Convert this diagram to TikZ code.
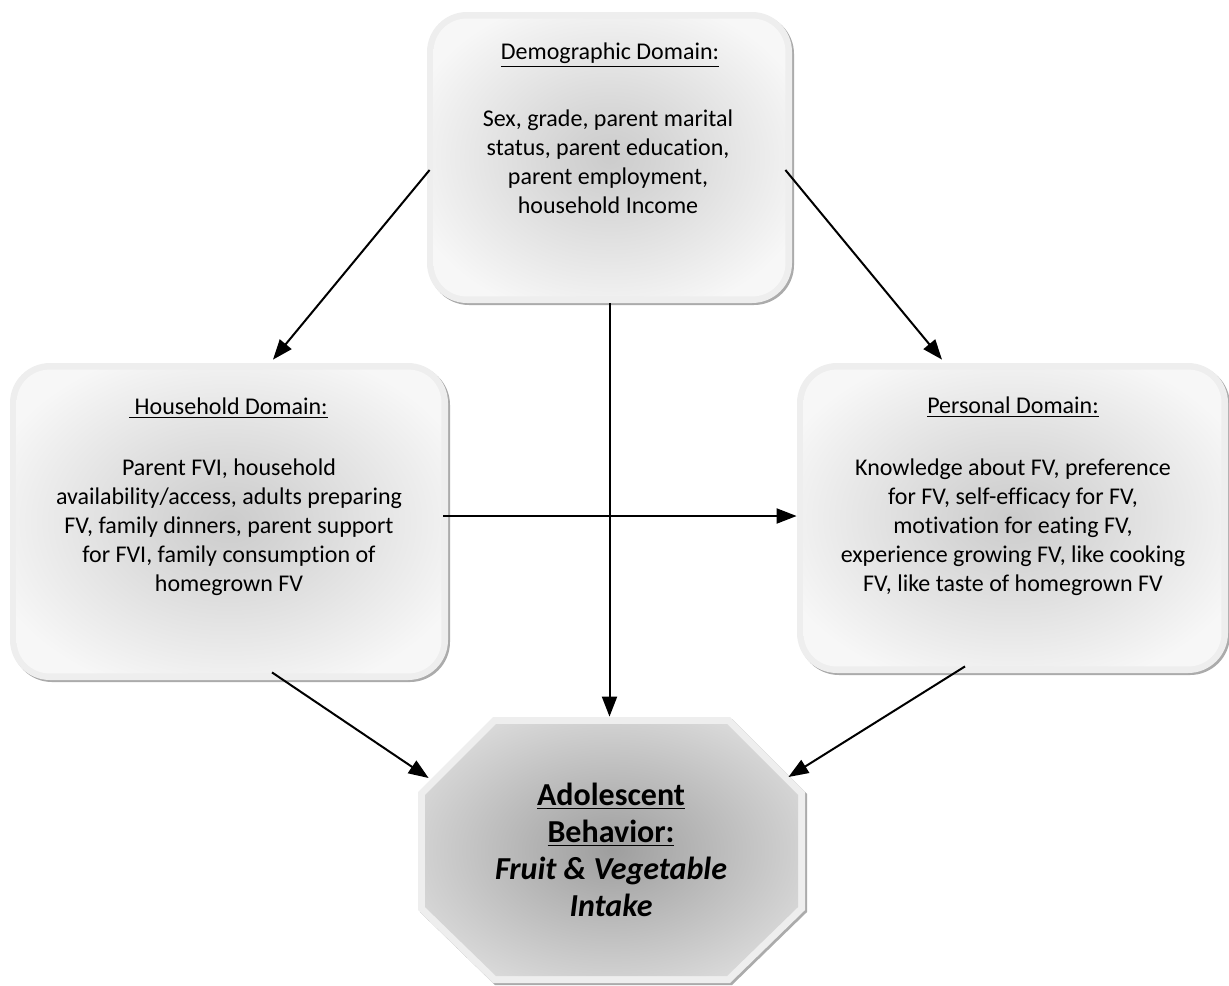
\documentclass[tikz,border=0pt]{standalone}
\usepackage{fontspec}
\setmainfont{Carlito}[Ligatures={NoCommon}]
\usetikzlibrary{calc,shadows,arrows.meta}
\pgfdeclareradialshading{boxshade}{\pgfpoint{0bp}{0bp}}{rgb(0bp)=(0.80,0.80,0.80); rgb(6bp)=(0.83,0.83,0.83); rgb(30bp)=(0.97,0.97,0.97); rgb(50bp)=(0.97,0.97,0.97)}
\pgfdeclareradialshading{octshade}{\pgfpoint{0bp}{0bp}}{rgb(0bp)=(0.62,0.62,0.62); rgb(38bp)=(0.92,0.92,0.92); rgb(50bp)=(0.92,0.92,0.92)}
\definecolor{ringc}{HTML}{EEEEEE}
\definecolor{shadowc}{HTML}{ABABAB}
\begin{document}
\begin{tikzpicture}[x=0.5pt,y=-0.5pt,
  boxouter/.style={rectangle, rounded corners=20pt, fill=ringc, inner sep=0pt,
    drop shadow={shadow xshift=1pt, shadow yshift=-1pt, fill=shadowc, opacity=1}},
  bodytext/.style={align=center, font=\fontsize{12}{14.5}\selectfont, inner sep=0pt},
  goaltext/.style={align=center, font=\fontsize{16}{18.5}\selectfont\bfseries, inner sep=0pt},
  arr/.style={line width=1pt, -{Triangle[length=10pt,width=7.5pt]}},
]
\useasboundingbox (0,0) rectangle (1229,985);

% Demographic box
\node[boxouter, minimum width=182.5pt, minimum height=145.5pt] (demo) at (609.5,157.5) {};
\shade[shading=boxshade, rounded corners=16.5pt] ($(demo.south west)+(7,-7)$) rectangle ($(demo.north east)+(-7,7)$);

% Household box
\node[boxouter, minimum width=219pt, minimum height=158.5pt] (house) at (229,521.5) {};
\shade[shading=boxshade, rounded corners=16.5pt] ($(house.south west)+(7,-7)$) rectangle ($(house.north east)+(-7,7)$);

% Personal box
\node[boxouter, minimum width=215.5pt, minimum height=155pt] (pers) at (1012.5,518) {};
\shade[shading=boxshade, rounded corners=16.5pt] ($(pers.south west)+(7,-7)$) rectangle ($(pers.north east)+(-7,7)$);

% Octagon
\node[rectangle, inner sep=0pt, minimum width=193.5pt, minimum height=133pt] (goal) at (611.5,850) {};
\fill[shadowc] (420,794) -- (495,719) -- (732,719) -- (807,794) -- (807,912) -- (732,985) -- (495,985) -- (420,912) -- cycle;
\fill[ringc] (418,792) -- (493,717) -- (730,717) -- (805,792) -- (805,910) -- (730,983) -- (493,983) -- (418,910) -- cycle;
\shade[shading=octshade] (425,795) -- (496,724) -- (727,724) -- (798,795) -- (798,907) -- (727,976) -- (496,976) -- (425,907) -- cycle;

% Texts
\node[bodytext] (demotitle) at (610,55) {\underline{Demographic Domain:}};
\node[bodytext] (demobody) at (608,161.5) {Sex, grade, parent marital\\status, parent education,\\parent employment,\\household Income};
\node[bodytext] (housetitle) at (228.5,408) {\underline{\ Household Domain:}};
\node[bodytext] (housebody) at (229,527) {Parent FVI, household\\availability/access, adults preparing\\FV, family dinners, parent support\\for FVI, family consumption of\\homegrown FV};
\node[bodytext] (perstitle) at (1013,407) {\underline{Personal Domain:}};
\node[bodytext] (persbody) at (1013,527.5) {Knowledge about FV, preference\\for FV, self-efficacy for FV,\\motivation for eating FV,\\experience growing FV, like cooking\\FV, like taste of homegrown FV};
\node[goaltext] (goaltxt) at (611,850) {\underline{Adolescent}\\\underline{Behavior:}\\\textit{Fruit \& Vegetable}\\\textit{Intake}};

% Arrows
\draw[arr] ($(demo.west)+(3,12.5)$) -- ($(house.north)+(44,-3)$);
\draw[arr] ($(demo.east)+(-7,12.5)$) -- ($(pers.north)+(-70.5,-3)$);
\draw[arr] (demo.south) -- (demo.south |- goal.north);
\draw[arr] ($(house.east)+(-5,-5.5)$) coordinate (hp) -- (pers.west |- hp);
\draw[arr] ($(house.south)+(43,-8)$) -- ($(goal.west)+(11,-72)$);
\draw[arr] ($(pers.south)+(-47.5,-7)$) -- ($(goal.east)+(-17,-73)$);
\end{tikzpicture}
\end{document}
